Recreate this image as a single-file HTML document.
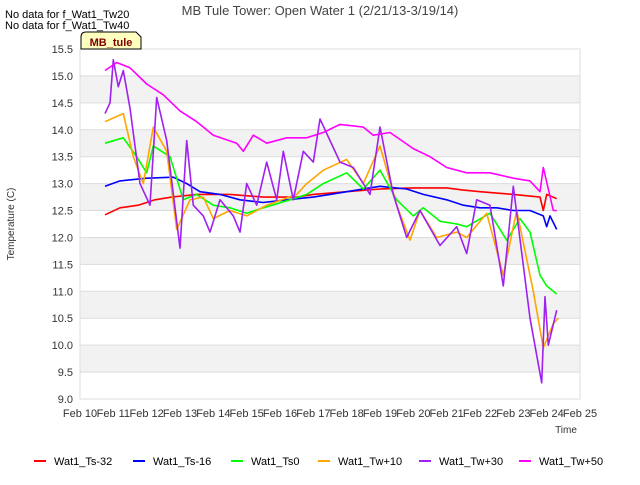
<!DOCTYPE html>
<html><head><meta charset="utf-8"><style>
body{margin:0;background:#fff;font-family:"Liberation Sans",sans-serif}
svg text{font-family:"Liberation Sans",sans-serif}
</style></head><body>
<svg id="chart" width="640" height="480">
<rect x="0" y="0" width="640" height="480" fill="#fff"/>
<g id="grid"></g>
<g id="series"></g>
<g id="axes"></g>
<text x="320" y="15" text-anchor="middle" font-size="13" fill="#444">MB Tule Tower: Open Water 1 (2/21/13-3/19/14)</text>
<text x="5" y="18" font-size="11" fill="#000">No data for f_Wat1_Tw20</text>
<text x="5" y="29" font-size="11" fill="#000">No data for f_Wat1_Tw40</text>
<g>
<path d="M81,49 L81,37 Q81,32 86,32 L136,32 L141,37 L141,49 Z" fill="#ffffc0" stroke="#000"/>
<text x="111" y="46" text-anchor="middle" font-size="11" font-weight="bold" fill="#800000">MB_tule</text>
</g>
<text x="14" y="224" font-size="10" fill="#333" text-anchor="middle" transform="rotate(-90 14 224)">Temperature (C)</text>
<text x="566" y="433" font-size="10" fill="#333" text-anchor="middle">Time</text>
<g id="legend"></g>
</svg>
<script>
const xTickLabels=["Feb 10","Feb 11","Feb 12","Feb 13","Feb 14","Feb 15","Feb 16","Feb 17","Feb 18","Feb 19","Feb 20","Feb 21","Feb 22","Feb 23","Feb 24","Feb 25"];
const yTicks=[9.0,9.5,10.0,10.5,11.0,11.5,12.0,12.5,13.0,13.5,14.0,14.5,15.0,15.5];
const seriesNames=["Wat1_Ts-32","Wat1_Ts-16","Wat1_Ts0","Wat1_Tw+10","Wat1_Tw+30","Wat1_Tw+50"];
const seriesColors=["#ff0000","#0000ff","#00ff00","#ffa500","#a020f0","#ff00ff"];
const tRed=[10.75,11.2,11.75,12.25,12.75,13.5,14.5,15.5,16.5,17,18,19,20,21,21.5,22,23,23.8,23.9,24,24.3];
const vRed=[12.42,12.55,12.6,12.7,12.75,12.8,12.8,12.75,12.75,12.8,12.85,12.9,12.92,12.92,12.88,12.85,12.8,12.75,12.5,12.8,12.72];
const tBlue=[10.75,11.2,12,12.8,13.2,13.6,14.2,14.8,15.5,16.2,17,17.5,18,19,19.8,20.3,21,21.5,22,22.5,23,23.5,23.9,24.0,24.1,24.3];
const vBlue=[12.95,13.05,13.1,13.12,13.0,12.85,12.8,12.7,12.65,12.7,12.75,12.8,12.85,12.95,12.9,12.8,12.7,12.6,12.55,12.55,12.5,12.5,12.4,12.2,12.4,12.15];
const tGreen=[10.75,11.3,11.7,12.0,12.2,12.7,13.1,13.5,14,14.5,15,15.5,16.3,16.8,17.3,18,18.5,19.0,19.5,20,20.3,20.8,21.3,21.6,22.3,22.8,23.2,23.5,23.8,24.0,24.3];
const vGreen=[13.75,13.85,13.5,13.2,13.7,13.5,12.7,12.8,12.6,12.55,12.45,12.55,12.7,12.8,13.0,13.2,12.9,13.25,12.7,12.4,12.55,12.3,12.25,12.2,12.45,11.95,12.35,12.1,11.3,11.1,10.95];
const tOrange=[10.75,11.3,11.6,11.9,12.2,12.6,12.9,13.3,13.7,14,14.5,15,15.6,16.5,16.8,17.3,18,18.5,19.0,19.5,19.9,20.2,20.7,21.3,21.6,22.2,22.7,23.1,23.6,23.9,24.2,24.35];
const vOrange=[14.15,14.3,13.5,13.0,14.05,13.6,12.15,12.7,12.75,12.35,12.5,12.4,12.6,12.8,13.0,13.25,13.45,13.0,13.7,12.6,11.95,12.5,12.0,12.1,12.0,12.45,11.3,12.5,11.0,9.95,10.4,10.5];
const tPurple=[10.75,10.9,11.0,11.15,11.3,11.5,11.8,12.1,12.3,12.6,12.9,13.0,13.2,13.4,13.7,13.9,14.2,14.6,14.8,15.0,15.3,15.6,15.9,16.1,16.4,16.7,17.0,17.2,17.5,17.8,18.2,18.7,19.0,19.4,19.8,20.2,20.8,21.3,21.6,21.9,22.3,22.7,23.0,23.5,23.85,23.95,24.05,24.3];
const vPurple=[14.3,14.5,15.3,14.8,15.1,14.4,13.0,12.6,14.6,13.8,12.3,11.8,13.8,12.6,12.4,12.1,12.7,12.4,12.1,13.0,12.6,13.4,12.7,13.6,12.7,13.6,13.4,14.2,13.8,13.4,13.3,12.8,14.05,12.8,12.0,12.5,11.85,12.2,11.7,12.7,12.6,11.1,12.95,10.5,9.3,10.9,10.0,10.65];
const tMagenta=[10.75,11.1,11.5,12.0,12.5,13.0,13.5,14.0,14.7,14.9,15.2,15.6,16.2,16.8,17.3,17.8,18.5,18.8,19.3,20,20.5,21,21.6,22.3,23.0,23.5,23.8,23.9,24.2,24.3];
const vMagenta=[15.1,15.25,15.15,14.85,14.65,14.35,14.15,13.9,13.75,13.6,13.9,13.75,13.85,13.85,13.95,14.1,14.05,13.9,13.95,13.65,13.5,13.3,13.2,13.2,13.1,13.05,12.85,13.3,12.5,12.5];

const X0=80,X1=580,Y0=49,Y1=399,DMIN=10,DMAX=25,VMIN=9,VMAX=15.5;
const xs=d=>X0+(d-DMIN)/(DMAX-DMIN)*(X1-X0);
const ys=v=>Y1-(v-VMIN)/(VMAX-VMIN)*(Y1-Y0);
const NS="http://www.w3.org/2000/svg";
function mk(tag,attrs,parent){const e=document.createElementNS(NS,tag);for(const k in attrs)e.setAttribute(k,attrs[k]);parent.appendChild(e);return e;}
const grid=document.getElementById('grid'),axes=document.getElementById('axes'),ser=document.getElementById('series'),leg=document.getElementById('legend');
for(let i=0;i<yTicks.length-1;i++){
  if(i%2===1){const b=mk('rect',{x:X0,y:ys(yTicks[i+1]),width:X1-X0,height:ys(yTicks[i])-ys(yTicks[i+1]),fill:'#f2f2f2'},grid);
  
  }
}
yTicks.forEach(v=>{
  const l=mk('line',{x1:X0,x2:X1,y1:ys(v),y2:ys(v),stroke:'#dcdcdc'},grid);
  
  
  const t=mk('text',{x:X0-7,y:ys(v)+4,'text-anchor':'end','font-size':'11',fill:'#333'},axes);
  t.textContent=v.toFixed(1);
  
  
});
xTickLabels.forEach((s,i)=>{
  const x=xs(DMIN+i);
  const t=mk('text',{x:x,y:Y1+18,'text-anchor':'middle','font-size':'11',fill:'#333'},axes);
  t.textContent=s;
  
  
});
const fr=mk('rect',{x:X0,y:Y0,width:X1-X0,height:Y1-Y0,fill:'none',stroke:'#ddd'},axes);


const data=[[tRed,vRed],[tBlue,vBlue],[tGreen,vGreen],[tOrange,vOrange],[tPurple,vPurple],[tMagenta,vMagenta]];
data.forEach((d,i)=>{
  const pts=d[0].map((t,j)=>xs(t).toFixed(1)+','+ys(d[1][j]).toFixed(1)).join(' ');
  const p=mk('polyline',{points:pts,fill:'none',stroke:seriesColors[i],'stroke-width':'1.6','stroke-linejoin':'round'},ser);
  
  
});
const legX=[34,133,231,318,419,519];
seriesNames.forEach((n,i)=>{
  const g=mk('g',{},leg);
  
  
  mk('line',{x1:legX[i],x2:legX[i]+12,y1:461,y2:461,stroke:seriesColors[i],'stroke-width':'2'},g);
  const t=mk('text',{x:legX[i]+20,y:465,'font-size':'11',fill:'#000'},g);
  t.textContent=n;
});
</script>
</body></html>
